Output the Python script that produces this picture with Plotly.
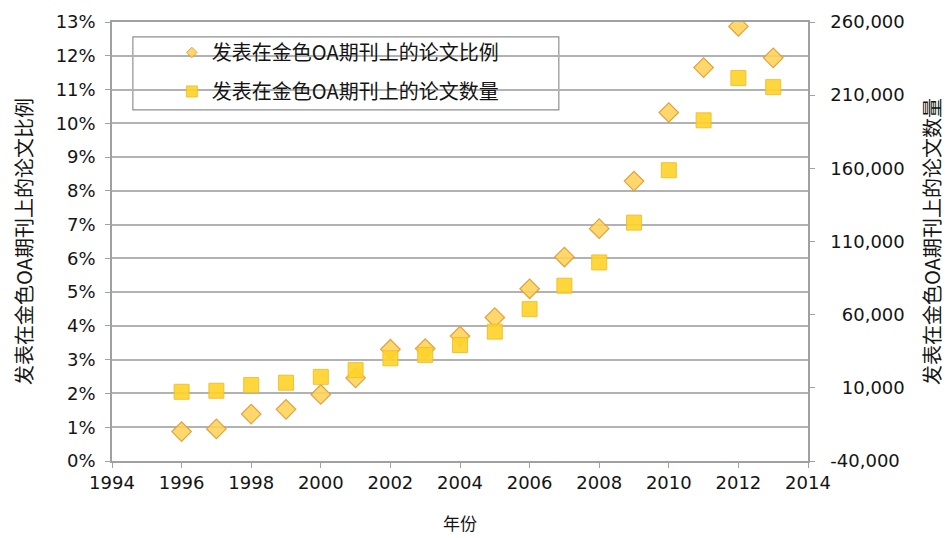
import plotly.graph_objects as go

years = [1996, 1997, 1998, 1999, 2000, 2001, 2002, 2003, 2004, 2005,
         2006, 2007, 2008, 2009, 2010, 2011, 2012, 2013]
ratio_pct = [0.87, 0.95, 1.39, 1.53, 1.97, 2.46, 3.31, 3.33, 3.70, 4.25,
             5.10, 6.04, 6.88, 8.29, 10.32, 11.65, 12.87, 11.94]
counts = [7300, 8000, 11900, 13500, 17500, 22100, 30200, 32500, 39200, 48400,
          63800, 79800, 95700, 122900, 158700, 192800, 221700, 215500]

name_ratio = "发表在金色OA期刊上的论文比例"
name_count = "发表在金色OA期刊上的论文数量"
x_title = "年份"

left_tickvals = list(range(0, 14))
left_ticktext = [f"{v}%" for v in left_tickvals]
right_tickvals = [-40000, 10000, 60000, 110000, 160000, 210000, 260000]
right_ticktext = ["-40,000", "\u200710,000", "\u200760,000", "110,000",
                  "160,000", "210,000", "260,000"]
x_tickvals = list(range(1994, 2015, 2))

CJK = "Noto Sans CJK SC"
TICKF = "DejaVu Sans"
TXT = "#141414"

dia_fill = "rgba(255,210,85,0.88)"
dia_line = "rgba(222,158,60,0.95)"
sq_fill = "rgba(255,211,40,0.9)"
sq_line = "rgba(240,190,40,0.9)"

fig = go.Figure()
fig.add_trace(go.Scatter(
    x=years, y=counts, name=name_count, mode="markers", yaxis="y2", showlegend=False,
    marker=dict(symbol="square", size=15, color=sq_fill, line=dict(color=sq_line, width=1)),
))
fig.add_trace(go.Scatter(
    x=years, y=ratio_pct, name=name_ratio, mode="markers", yaxis="y", showlegend=False,
    marker=dict(symbol="diamond", size=15, color=dia_fill, line=dict(color=dia_line, width=1.2)),
))
# legend entries (small markers as in the reference legend)
fig.add_trace(go.Scatter(
    x=[None], y=[None], name=name_ratio, mode="markers", legendgroup="a",
    marker=dict(symbol="diamond", size=8, color=dia_fill, line=dict(color=dia_line, width=1)),
))
fig.add_trace(go.Scatter(
    x=[None], y=[None], name=name_count, mode="markers", legendgroup="b",
    marker=dict(symbol="square", size=11, color=sq_fill, line=dict(color=sq_line, width=1)),
))

grid = "#b2b2b2"
axcol = "#a0a0a0"
fig.update_layout(
    width=950, height=538,
    margin=dict(l=104, r=150, t=14, b=85, autoexpand=False),
    paper_bgcolor="white", plot_bgcolor="white",
    showlegend=True,
    legend=dict(x=0.086, y=0.975, xanchor="left", yanchor="top",
                bgcolor="rgba(0,0,0,0)", borderwidth=0,
                font=dict(family=CJK, size=20, color=TXT),
                traceorder="grouped", tracegroupgap=10, itemsizing="trace"),
    xaxis=dict(range=[1994, 2014], tickvals=x_tickvals, automargin=False,
               showgrid=False, zeroline=False,
               showline=True, linecolor=axcol, linewidth=1.5, mirror=True,
               ticks="outside", ticklen=5, tickcolor=axcol,
               tickfont=dict(family=TICKF, size=18, color=TXT),
               title=dict(text=x_title, font=dict(family=CJK, size=17, color=TXT),
                          standoff=26)),
    yaxis=dict(range=[0, 13], tickvals=left_tickvals, ticktext=left_ticktext,
               automargin=False,
               showgrid=True, gridcolor=grid, gridwidth=1.5, zeroline=False,
               showline=True, linecolor=axcol, linewidth=1.5,
               ticks="outside", ticklen=5, tickcolor=axcol, ticklabelstandoff=6,
               tickfont=dict(family=TICKF, size=18, color=TXT),
               title=dict(text=name_ratio, font=dict(family=CJK, size=20, color=TXT),
                          standoff=18)),
    yaxis2=dict(range=[-40000, 260000], tickvals=right_tickvals, ticktext=right_ticktext,
                automargin=False,
                overlaying="y", side="right", showgrid=False, zeroline=False,
                showline=True, linecolor=axcol, linewidth=1.5,
                ticks="outside", ticklen=5, tickcolor=axcol, ticklabelstandoff=12,
                tickfont=dict(family=TICKF, size=18, color=TXT),
                title=dict(text=name_count, font=dict(family=CJK, size=20, color=TXT),
                           standoff=22)),
    shapes=[dict(type="rect", xref="paper", yref="paper",
                 x0=0.030, x1=0.642, y0=0.80, y1=0.966,
                 line=dict(color="#909090", width=1.2), fillcolor="white", layer="below")],
)

fig.write_html("out.html")
